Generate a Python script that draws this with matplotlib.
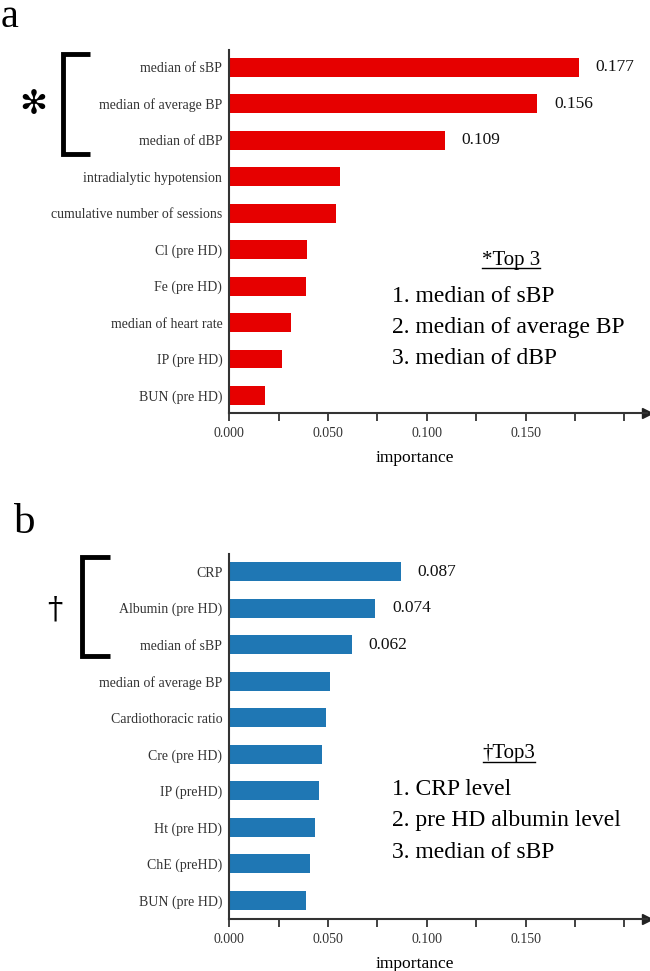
import numpy as np
import matplotlib
matplotlib.use('Agg')
import matplotlib.pyplot as plt
from matplotlib.lines import Line2D

plt.rcParams['font.family'] = ['Liberation Serif', 'DejaVu Serif', 'DejaVu Sans']

# panel a
feat_a = ['median of sBP', 'median of average BP', 'median of dBP',
          'intradialytic hypotension', 'cumulative number of sessions',
          'Cl (pre HD)', 'Fe (pre HD)', 'median of heart rate',
          'IP (pre HD)', 'BUN (pre HD)']
imp_a = [0.177, 0.156, 0.109, 0.056, 0.054, 0.0395, 0.0387, 0.0313, 0.0265, 0.018]
top_a = ['1. median of sBP', '2. median of average BP', '3. median of dBP']

# panel b
feat_b = ['CRP', 'Albumin (pre HD)', 'median of sBP', 'median of average BP',
          'Cardiothoracic ratio', 'Cre (pre HD)', 'IP (preHD)', 'Ht (pre HD)',
          'ChE (preHD)', 'BUN (pre HD)']
imp_b = [0.087, 0.074, 0.062, 0.051, 0.0488, 0.0468, 0.0453, 0.0436, 0.0411, 0.0386]
top_b = ['1. CRP level', '2. pre HD albumin level', '3. median of sBP']

xticks = np.arange(0, 0.2001, 0.025)
xlabels = ['0.000', '', '0.050', '', '0.100', '', '0.150', '', '']

W, H = 650, 971
fig = plt.figure(figsize=(W / 100, H / 100), dpi=100)


def fx(px):
    return px / W


def fy(py):
    return 1 - py / H


def panel(rect, feats, vals, color, ylim, n_lab):
    ax = fig.add_axes(rect)
    y = np.arange(len(feats))
    ax.barh(y, vals, height=0.52, color=color)
    for i in range(n_lab):
        ax.annotate('%.3f' % vals[i], (vals[i], y[i]), xytext=(12, 0),
                    textcoords='offset points', va='center', ha='left',
                    fontsize=12.5, color='#111111')
    ax.set_ylim(*ylim)
    ax.set_xlim(0, 0.2115)
    ax.set_yticks(y)
    ax.set_yticklabels(feats, fontsize=10, color='#333333')
    ax.tick_params(axis='y', length=0, pad=5)
    ax.set_xticks(xticks)
    ax.set_xticklabels(xlabels, fontsize=10, color='#333333')
    ax.tick_params(axis='x', length=6, width=1.3, color='#333333', pad=4)
    for s in ['top', 'right']:
        ax.spines[s].set_visible(False)
    for s in ['left', 'bottom']:
        ax.spines[s].set_linewidth(1.5)
        ax.spines[s].set_color('#333333')
    ax.plot(1, 0, marker='>', markersize=7, color='#222222',
            transform=ax.transAxes, clip_on=False)
    ax.set_xlabel('importance', fontsize=12.6, labelpad=7, x=0.445)
    return ax


ax1 = panel([fx(229.3), fy(413), fx(647 - 229.3), (413 - 50) / H],
            feat_a, imp_a, '#E60000', (9.48, -0.47), 3)
ax2 = panel([fx(229.3), fy(919.3), fx(647 - 229.3), (919.3 - 554) / H],
            feat_b, imp_b, '#1F77B4', (9.52, -0.48), 3)

# panel letters
fig.text(fx(1), fy(27), 'a', fontsize=29, va='baseline', ha='left')
fig.text(fx(14), fy(533), 'b', fontsize=31, va='baseline', ha='left')


# brackets
def bracket(x0, x1, y0, y1):
    fig.add_artist(Line2D([fx(x1), fx(x0), fx(x0), fx(x1)],
                          [fy(y0), fy(y0), fy(y1), fy(y1)],
                          color='black', lw=3.5, solid_joinstyle='miter',
                          solid_capstyle='butt'))


bracket(63, 90, 54, 154)
fig.text(fx(33), fy(104), '\u273B', fontsize=24, ha='center', va='center',
         family='DejaVu Sans')
bracket(82, 110, 557, 656)
fig.text(fx(55), fy(610), '\u2020', fontsize=22, ha='center', va='center',
         family='DejaVu Serif')


# top-3 boxes
def top_box(head, lines, yh, hx):
    t = fig.text(fx(hx), fy(yh), head, fontsize=15, ha='center', va='center')
    fig.canvas.draw()
    bb = t.get_window_extent()
    fig.add_artist(Line2D([bb.x0 / W, bb.x1 / W], [(bb.y0 + 1) / H] * 2,
                          color='black', lw=1))
    for i, s in enumerate(lines):
        fig.text(fx(392), fy(yh + 36 + 31.5 * i), s, fontsize=17,
                 ha='left', va='center')


top_box('*Top 3', top_a, 260, 511)
top_box('\u2020Top3', top_b, 753, 509)

fig.savefig('out.png', dpi=100)
